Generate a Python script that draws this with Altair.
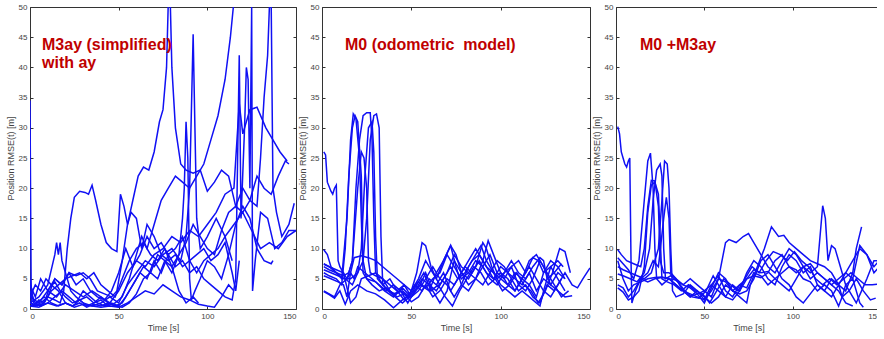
import altair as alt
import pandas as pd

BLUE = "#1010f4"
RED = "#c00000"

# ---------------- Panel 1: M3ay (simplified) with ay ----------------
m3ay_1 = [(0,34.5),(0.7,1),(2,0.5),(5,1.5),(8,1),(11,3.5),(14,4.5),(17,3),(20,2),(24,1),(28,1.5),(32,0.5),(36,1),(40,2),(44,1),(48,0.5),(52,0.3),(56,1),(60,2.5),(64,5),(68,6),(72,5),(76,8),(80,7),(84,3),(88,1),(92,2),(95,1)]
m3ay_2 = [(0,1),(3,0.5),(6,1),(10,2),(14,1.5),(17,1),(19,3),(21,10),(23,15),(25,18.5),(28,19.5),(31,19.3),(33,19),(35,20.5),(37,18),(40,14),(43,11),(46,10),(49,9.5),(51,19),(53,17),(55,14),(57,16),(60,15),(63,10),(66,14),(70,12),(74,9),(78,8),(82,9),(86,7),(90,8),(94,6),(98,8),(102,9),(106,10),(110,12),(114,8)]
m3ay_3 = [(0,3),(3,1),(6,0.5),(10,2),(14,5),(18,4),(22,6),(26,5.5),(30,6),(34,5),(38,3),(42,2.5),(46,2),(49,3),(52,8),(55,14),(58,18),(61,22),(64,23.5),(67,23),(70,26),(73,31),(75,33),(77,40),(78,51),(79,52),(80,40),(82,30),(85,24),(88,23),(92,22.5),(96,23),(100,19.5),(104,21),(108,23),(112,22),(116,17),(120,20),(124,18),(128,22),(132,20),(136,19),(140,22),(144,24.5),(146,24)]
m3ay_4 = [(0,0.5),(4,1),(8,2),(12,1),(16,0.5),(20,1),(24,0.5),(28,1.5),(32,2),(36,1),(40,1.5),(44,0.5),(48,1),(52,2),(56,5),(60,9),(63,12),(66,10),(70,14),(74,18),(78,20),(82,22),(86,21),(90,20),(94,22),(98,24),(102,28),(106,32),(110,38),(113,45),(115,51)]
m3ay_5 = [(0,2),(5,1),(10,3),(15,2),(20,4),(25,3),(30,2),(35,3),(40,2),(45,1),(50,3),(55,6),(60,8),(65,7),(70,9),(75,10),(80,12),(85,11),(90,13),(95,12),(100,14),(105,16),(110,19),(115,20),(118,34),(120,29),(124,33),(128,33.4),(133,30),(137,28),(141,26),(145,24.5)]
m3ay_6 = [(0,1),(5,2),(10,4),(14,9),(15,11),(16,9),(17,11),(18,8),(20,6),(23,3),(26,2),(30,1),(35,0.5),(40,1),(45,2),(50,1),(55,4),(60,6),(65,8),(70,7),(75,9),(80,10),(85,8),(88,12),(90,20),(92,45.5),(93,30),(94,15),(96,10),(100,12),(105,15),(110,12),(115,14),(120,16),(125,13),(130,10),(135,11),(140,10),(145,12),(150,13)]
m3ay_7 = [(0,5),(2,1),(6,0.5),(10,1),(14,2),(18,3),(22,2),(26,1),(30,3),(34,2),(38,1),(42,0.5),(46,1),(50,0.5),(54,2),(58,4),(62,6),(66,5),(70,8),(74,6),(78,9),(82,7),(86,8),(90,6),(94,7),(98,5),(102,4),(106,3),(110,2),(114,1.5),(116,5),(118,42),(119,15),(121,30),(122,40),(123,38),(124,20),(125,50),(125.5,3),(127,8),(130,16),(134,15),(138,10),(142,11),(146,13),(150,13)]
m3ay_8 = [(0,1),(4,0.5),(8,1),(12,3),(16,4),(20,5),(24,5.5),(28,6),(32,5),(36,6),(40,4),(44,3),(48,2),(52,5),(56,8),(60,10),(64,11),(68,9),(72,8),(76,10),(80,7),(84,9),(88,11),(92,14),(96,12),(100,10),(104,9),(108,13),(112,16),(116,17),(120,16),(124,18),(128,17),(130,25),(132,35),(134,42),(135,50),(136,51),(137,20),(139,16),(142,12),(146,14),(149,17.5)]
m3ay_9 = [(0,2),(3,4),(6,3),(9,5),(12,4),(16,3),(20,1),(24,0.5),(28,1),(32,0.3),(36,0.8),(40,0.5),(44,1),(48,0.5),(52,1),(56,3),(60,5),(64,7),(68,6),(72,9),(76,8),(80,6),(84,9),(86,15),(87,20),(88,31),(89,25),(90,5),(91,1.5),(93,3),(96,5),(100,8),(104,7),(108,5),(112,9),(116,14),(120,17),(124,15),(128,10),(132,8),(136,7.5),(137,8)]
m3ay_10 = [(0,0.5),(5,0.3),(10,1),(15,0.5),(20,1),(25,0.3),(30,0.8),(35,0.5),(40,0.3),(45,0.5),(50,0.3),(55,1),(60,2),(65,3),(70,2.5),(75,4),(80,3),(85,2),(90,1.5),(95,0.8),(100,0.5),(104,0.3),(108,2),(112,4),(115,3)]
m3ay_11 = [(0,4),(3,2),(6,5),(10,3),(14,5),(18,4),(22,6),(26,4),(30,5),(34,3),(38,2),(42,1.5),(46,3),(50,6),(54,10),(58,7),(62,9),(66,12),(70,10),(74,11),(78,9),(82,10),(86,12),(90,8),(94,9),(98,10),(102,8),(106,9),(110,11),(114,6),(116,3),(118,8)]
m3ay_series = [m3ay_1, m3ay_2, m3ay_3, m3ay_4, m3ay_5, m3ay_6, m3ay_7, m3ay_8, m3ay_9, m3ay_10, m3ay_11]

# ---------------- Panel 2: M0 (odometric model) ----------------
m0_1 = [(1,26),(2,25.5),(3,21),(5,19.5),(6,19),(7,20),(8,20.5),(9,8),(10,7),(12,6),(14,5),(16,6),(18,5),(20,7),(24,6),(28,5),(32,4),(36,3),(40,4),(44,3),(48,2),(52,4),(56,3),(60,5),(64,4),(68,6),(72,3),(76,5),(80,7),(84,6),(88,8),(92,6),(96,5),(100,7),(104,6),(108,5),(112,4),(116,6),(120,3),(124,5),(128,4),(132,6),(136,5)]
m0_2 = [(1,7.5),(4,7),(8,6),(11,5),(14,15),(16,28),(17.5,32.3),(19,31.5),(21,25),(22,15),(23,6),(25,5),(28,4),(32,3),(36,3.5),(40,2.5),(44,3),(48,1),(52,3),(56,5),(60,4),(64,3),(68,5),(72,7),(76,5),(80,6),(84,8),(88,9),(92,7),(96,5),(100,6),(104,4),(108,3),(112,5),(116,4),(120,2),(124,6),(128,7),(132,5),(136,3)]
m0_3 = [(1,6),(4,5.5),(8,5),(11,4),(13,10),(15,22),(17,30),(18.5,32),(20,31),(22,22),(23,8),(25,5),(30,4.5),(35,3),(40,2),(45,3.5),(50,2),(55,4),(58,6),(62,3),(66,1),(70,3),(74,8),(78,6),(82,4),(86,5),(90,7),(94,9),(98,6),(102,5),(106,7),(110,4),(114,3),(118,5),(122,8),(126,6),(130,4),(134,2),(138,3)]
m0_4 = [(1,9.8),(3,9),(5,7),(8,6),(12,5.5),(15,6),(17,8),(19,20),(21,28),(23,32),(25,32.5),(27,32.5),(28,28),(29,15),(30,6),(33,4.5),(37,3),(41,2.5),(45,3),(49,2),(53,6),(56,11),(58,10.5),(61,7),(64,5),(68,8),(72,10.5),(75,9),(78,6),(82,5),(86,7),(90,11),(92,10),(95,7),(98,5),(102,6),(106,8),(110,6),(114,5),(118,7),(122,8.5),(124,8),(126,5),(130,6),(134,7.5)]
m0_5 = [(1,3),(4,2.5),(7,2),(10,4),(14,5),(17,8),(20,20),(22,26),(23.5,25),(25,20),(26,8),(27,6),(30,5.5),(34,5),(38,4),(42,3),(46,1.5),(50,3),(54,5),(58,8),(62,6),(66,4),(70,6),(74,9),(78,7),(82,6),(86,5),(90,4),(94,6),(98,8),(102,7),(106,5),(110,3),(114,4),(118,2),(122,1),(126,4),(130,3),(134,5)]
m0_6 = [(1,6.5),(5,6),(9,5.5),(13,5),(17,4),(20,6),(22,10),(24,22),(26,30),(28,31),(29,26),(30,12),(31,5),(34,4),(38,5),(42,3),(46,4),(50,2),(54,3),(58,5),(62,7),(66,5),(70,4),(74,2),(78,4),(82,7),(86,9),(89,10.5),(92,8),(96,6),(100,5),(104,4),(108,6),(112,5),(116,8),(120,9),(124,7),(128,4),(132,3),(136,2),(140,2.2)]
m0_7 = [(1,7),(4,6.5),(8,6),(12,5),(16,5),(20,6),(23,8),(25,15),(27,28),(29,32),(30.5,32.3),(32,30),(33,12),(34,4),(37,3),(41,2),(45,1),(49,2),(53,4),(57,6),(61,3),(65,4),(69,2),(73,0.5),(77,3),(81,5),(85,7),(89,6),(93,4),(97,5),(101,3),(105,4),(109,6),(113,4),(117,3),(121,1),(125,3),(129,6),(133,10),(136,9.5),(139,6)]
m0_8 = [(1,5.5),(5,5),(9,4.5),(12,4),(14,2),(16,6),(18,8.5),(22,8.8),(26,8.5),(30,8),(34,7),(38,6),(42,5),(46,4),(50,3),(54,4.5),(58,3.5),(62,5),(66,6),(70,9),(74,7),(78,5),(82,6),(86,8),(90,7),(94,5),(98,4),(102,6),(106,7),(110,8),(114,6),(118,8.5),(121,8),(124,6),(128,8),(132,7),(136,5)]
m0_9 = [(1,2.9),(4,2.4),(7,1.8),(10,3),(13,0.8),(16,3),(20,4),(25,3),(30,2.5),(35,1.5),(40,0.2),(45,1.5),(50,2.5),(55,4),(60,3),(64,6),(68,8),(72,10.5),(75,7),(78,4),(82,3),(86,5),(90,8),(93,11.3),(96,9),(100,6),(104,5),(108,3),(112,5),(116,7),(120,5),(124,3),(128,2),(132,4),(136,6),(140,4),(143,3.5),(146,5),(150,6.8)]
m0_10 = [(1,7.4),(4,7),(8,6.5),(12,6),(16,1),(19,2),(22,5),(26,5.5),(30,6),(34,5),(38,3),(42,2),(46,2.5),(50,1.2),(54,2),(58,4),(62,2),(66,3),(70,5),(74,4),(78,6),(82,8),(86,10),(88,9),(92,7),(96,6),(100,4),(104,3),(108,2),(112,3),(116,2),(120,1),(122,0.5),(124,3),(128,7),(132,8),(135,7)]
m0_series = [m0_1, m0_2, m0_3, m0_4, m0_5, m0_6, m0_7, m0_8, m0_9, m0_10]

# ---------------- Panel 3: M0 + M3ay ----------------
mix_1 = [(1,30.2),(2,29),(3,26),(4,25),(5,24),(6,23.5),(7,24.5),(7.8,25),(8.5,8),(9,1),(11,3),(14,5),(18,4.5),(22,5),(26,5.2),(30,5),(34,4),(38,3),(42,2.5),(46,2),(50,1.5),(54,3),(58,5),(62,11),(64,11.5),(68,11),(72,12),(75,12.5),(78,11),(82,9),(86,7),(90,6),(94,8),(98,10),(102,9),(106,7),(110,5),(114,6),(118,5),(122,4),(126,3),(130,1),(134,0.5)]
mix_2 = [(1,8.5),(4,7.5),(7,6.5),(10,5),(13,8),(16,18),(18,24.5),(19.5,25.8),(21,20),(22,10),(23,5),(26,4),(30,5),(34,4),(38,3),(42,2),(46,3),(50,1.5),(54,4),(58,3),(62,2),(66,4),(70,3),(74,6),(78,8),(82,7),(86,5),(90,4),(94,7),(98,9),(102,8),(106,6),(110,7),(114,4),(118,3),(122,5),(126,4),(130,6),(134,8),(138,10),(142,9),(146,7),(149,8)]
mix_3 = [(1,9.8),(3,9),(6,8),(10,7.5),(14,7),(16,10),(18,17),(20,21.3),(22,21.2),(24,17),(25,8),(27,6),(30,6),(34,5),(38,3),(42,2),(46,2.5),(50,1),(54,3.5),(58,6),(62,5),(66,3),(70,2),(74,1),(76,4),(80,7),(84,10),(88,13.6),(92,12),(95,12.2),(98,11),(102,10),(106,9),(110,8),(114,7.5),(118,7),(122,6),(126,4),(128,2),(132,3),(136,5),(140,3),(144,1.5),(147,1.8)]
mix_4 = [(1,3.5),(4,2.8),(7,1.5),(10,2),(13,3),(16,7),(18,16),(20,20.5),(22,21),(24,19),(25,12),(26,5),(29,4.5),(33,4),(37,3),(41,4),(45,3),(49,2.5),(53,1),(57,3),(61,5),(65,4),(69,3),(73,5),(77,7),(81,6),(85,8),(89,9.5),(93,9),(97,8),(101,9.5),(105,8),(109,7),(113,5),(117,4),(121,5),(125,4),(129,5),(133,6),(137,5),(141,4),(145,4),(150,4.2)]
mix_5 = [(1,5.8),(4,5.5),(8,5),(12,4.5),(16,6),(19,10),(21,18),(23,23),(25,24),(26,22),(27,10),(28,5),(31,5.5),(35,4.5),(39,3),(43,2),(47,1.8),(51,3),(55,5.5),(58,4),(62,2),(66,1.5),(70,3),(74,5),(78,6.5),(82,6),(86,6.2),(90,5),(94,4),(98,3),(102,5),(106,7),(110,6),(114,7),(117,17.1),(118.5,15),(120,8),(122,10.5),(124,10),(127,7),(130,4),(134,2),(136,1),(139,3),(142,5),(146,8),(150,8)]
mix_6 = [(1,7),(4,6.5),(8,6),(12,5.5),(16,5),(20,6),(24,10),(26,18),(27.5,24.5),(29,24),(30,20),(31,10),(32,3),(34,2),(38,2.5),(42,4),(46,3),(50,2),(54,1),(58,2),(62,4),(66,3),(70,2.5),(74,3),(78,5),(82,8),(86,9),(90,7),(94,5),(98,4),(102,2),(106,1),(110,2.5),(114,4),(118,3),(122,2),(126,4),(130,3),(134,6),(136,10),(139,13.6)]
mix_7 = [(1,4),(4,3.5),(7,2),(10,3),(14,5),(18,6),(21,8),(24,7),(27,15),(28.5,18.5),(30,15),(31,6),(34,5),(38,4),(42,5),(46,4),(50,3),(54,2),(58,5),(62,4.5),(66,3),(70,4),(74,3.5),(78,6),(82,5.5),(86,4),(90,5),(94,6),(98,7),(102,6.5),(106,5),(110,4.5),(114,3),(118,4),(122,3),(126,0.5),(128,2),(130,4),(134,5),(138,1),(140,0.3)]
mix_8 = [(1,8),(4,5),(7,3),(10,4),(14,4.5),(18,5),(22,5.2),(26,5.3),(30,5),(34,4.8),(38,4),(42,3.5),(46,2.5),(50,3),(54,4),(58,5.5),(62,3),(66,2),(70,4),(74,5),(78,5.5),(82,5.2),(86,6),(90,8),(94,9),(98,7),(102,6),(106,7),(110,7.5),(114,6),(118,5),(122,4),(126,5),(130,6),(134,5),(138,10.5),(142,9),(146,6),(149,7)]
mix_series = [mix_1, mix_2, mix_3, mix_4, mix_5, mix_6, mix_7, mix_8]

x_ticks = [0, 50, 100, 150]
y_ticks = [0, 5, 10, 15, 20, 25, 30, 35, 40, 45, 50]
x_title = "Time [s]"
y_title = "Position RMSE(t) [m]"
panel_titles = [["M3ay (simplified)", "with ay"], ["M0 (odometric\u00a0\u00a0model)"], ["M0 +M3ay"]]

FONT = "Liberation Sans"
AX = dict(labelFontSize=8, labelColor="#444", labelFont=FONT, titleFont=FONT,
          titleFontSize=9, titleColor="#444", titleFontWeight="normal",
          domain=False, grid=False, tickColor="#333", tickSize=3, offset=-3)


def to_df(series):
    rows = []
    for i, s in enumerate(series):
        for t, v in s:
            rows.append({"s": i, "t": t, "v": v})
    return pd.DataFrame(rows)


def panel(series, title_lines, tx, ty, w, h):
    df = to_df(series)
    xs = alt.Scale(domain=[0, 150], nice=False, zero=False)
    ys = alt.Scale(domain=[0, 50], nice=False)
    base = alt.Chart(df)
    lines = base.mark_line(color=BLUE, strokeWidth=1.5, clip=True).encode(
        x=alt.X("t:Q", scale=xs, axis=alt.Axis(values=x_ticks, title=x_title, labelPadding=3,
                                              titlePadding=3, format="d", **AX)),
        y=alt.Y("v:Q", scale=ys, axis=alt.Axis(values=y_ticks, title=y_title, labelPadding=3,
                                              titlePadding=3, format="d", **AX)),
        detail="s:N",
    )
    frame = base.mark_line(strokeOpacity=0, clip=True).encode(
        x=alt.X("t:Q", scale=xs, axis=alt.Axis(orient="top", values=x_ticks, labels=False,
                                              title=None, **AX)),
        y=alt.Y("v:Q", scale=ys, axis=alt.Axis(orient="right", values=y_ticks, labels=False,
                                              title=None, **AX)),
        detail="s:N",
    )
    txt = alt.Chart(pd.DataFrame({"k": [0]})).mark_text(
        text=title_lines, color=RED, font=FONT, fontSize=16, fontWeight="bold",
        align="left", baseline="alphabetic", lineHeight=18,
    ).encode(x=alt.value(tx), y=alt.value(ty))
    return alt.layer(lines, frame, txt).resolve_axis(x="independent", y="independent").properties(
        width=w, height=h)


p1 = panel(m3ay_series, panel_titles[0], 12, 43, 266, 302)
p2 = panel(m0_series, panel_titles[1], 23, 43, 268, 302)
p3 = panel(mix_series, panel_titles[2], 24, 43, 265, 302)

chart = alt.hconcat(p1, p2, p3, spacing=26, bounds="flush").properties(
    padding={"left": 5, "top": 2, "right": -5, "bottom": 2}
).configure_view(stroke="#333", strokeWidth=1)

chart.save("out.html", embed_options={"renderer": "svg", "actions": False})
